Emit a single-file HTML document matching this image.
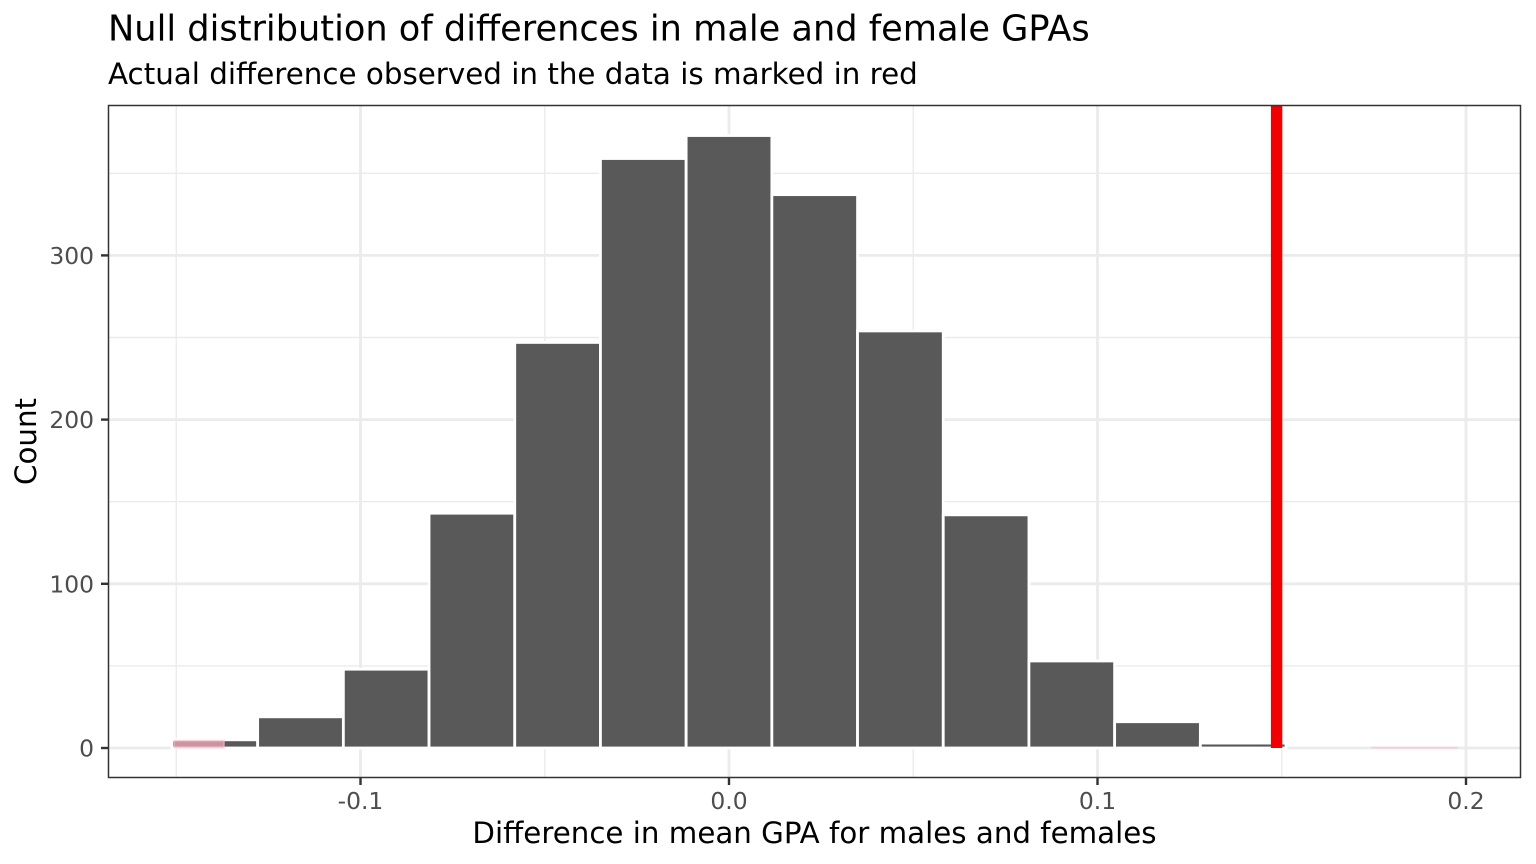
<!DOCTYPE html>
<html lang="en">
<head>
<meta charset="utf-8">
<title>Null distribution of differences in male and female GPAs</title>
<style>
html,body{margin:0;padding:0;background:#fff;}
svg{display:block;font-family:"DejaVu Sans","Liberation Sans",sans-serif;}
</style>
</head>
<body>
<svg id="chart" xmlns="http://www.w3.org/2000/svg" width="1536" height="864" viewBox="0 0 1536 864">
  <defs><clipPath id="panel-clip"><rect x="108.5" y="105.5" width="1412" height="672"/></clipPath></defs>
  <text x="108" y="40.5" font-size="35.16" fill="#000">Null distribution of differences in male and female GPAs</text>
  <text x="108" y="84" font-size="29.35" fill="#000">Actual difference observed in the data is marked in red</text>
  <text x="814.5" y="843" font-size="29.3" text-anchor="middle" fill="#000">Difference in mean GPA for males and females</text>
  <text transform="translate(36 441.5) rotate(-90)" font-size="29.3" text-anchor="middle" fill="#000">Count</text>
  <g id="grid"></g>
  <g id="marks" clip-path="url(#panel-clip)"></g>
  <rect x="108.5" y="105.5" width="1412" height="672" fill="none" stroke="#333" stroke-width="1.5"/>
  <g id="axes"></g>
</svg>
<script>
const binCenters = [-0.13953, -0.11628, -0.09302, -0.06977, -0.04651, -0.02326, 0, 0.02326, 0.04651, 0.06977, 0.09302, 0.11628, 0.13953, 0.16279, 0.18605];
const binCounts = [5, 19, 48, 143, 247, 359, 373, 337, 254, 142, 53, 16, 3, 0, 0];
const binWidth = 0.02326;
const shadeStarts = [-0.1505, 0.17442];
const shadeEnds = [-0.1370, 0.19767];
const shadeCounts = [4.6, 0.4];
const observedDifference = [0.1486];
const xMajorTicks = [-0.1, 0, 0.1, 0.2];
const xTickLabels = ['-0.1', '0.0', '0.1', '0.2'];
const xMinorTicks = [-0.15, -0.05, 0.05, 0.15];
const yMajorTicks = [0, 100, 200, 300];
const yTickLabels = ['0', '100', '200', '300'];
const yMinorTicks = [50, 150, 250, 350];

const NS = 'http://www.w3.org/2000/svg';
const panelLeft = 108.5, panelRight = 1520.5, panelTop = 105.5, panelBottom = 777.5;
function xScale(v) { return 729 + v * 3685; }
function yScale(v) { return 748 - v * 1.642; }
function make(tag, attrs, parent) {
  const el = document.createElementNS(NS, tag);
  Object.keys(attrs).forEach(function (k) { el.setAttribute(k, attrs[k]); });
  parent.appendChild(el);
  return el;
}
const grid = document.getElementById('grid');
const marks = document.getElementById('marks');
const axes = document.getElementById('axes');

yMinorTicks.forEach(function (v) {
  const l = make('line', { x1: panelLeft, x2: panelRight, y1: yScale(v), y2: yScale(v), stroke: '#ebebeb', 'stroke-width': 1.4 }, grid);
  
  
});
xMinorTicks.forEach(function (v) {
  const l = make('line', { x1: xScale(v), x2: xScale(v), y1: panelTop, y2: panelBottom, stroke: '#ebebeb', 'stroke-width': 1.4 }, grid);
  
  
});
yMajorTicks.forEach(function (v) {
  const l = make('line', { x1: panelLeft, x2: panelRight, y1: yScale(v), y2: yScale(v), stroke: '#ebebeb', 'stroke-width': 2.8 }, grid);
  
  
});
xMajorTicks.forEach(function (v) {
  const l = make('line', { x1: xScale(v), x2: xScale(v), y1: panelTop, y2: panelBottom, stroke: '#ebebeb', 'stroke-width': 2.8 }, grid);
  
  
});

binCenters.forEach(function (c, i) {
  const x0 = xScale(c - binWidth / 2), x1 = xScale(c + binWidth / 2);
  const y1 = yScale(binCounts[i]), y0 = yScale(0);
  const r = make('rect', { x: x0, y: y1, width: x1 - x0, height: y0 - y1, fill: '#595959', stroke: '#fff', 'stroke-width': 2.8 }, marks);
  
  
});

shadeStarts.forEach(function (s, i) {
  const x0 = xScale(s), x1 = xScale(shadeEnds[i]);
  const y1 = yScale(shadeCounts[i]), y0 = yScale(0);
  const r = make('rect', { x: x0, y: y1, width: x1 - x0, height: y0 - y1, fill: '#ffb6c6', 'fill-opacity': 0.68, stroke: '#ffc4d2', 'stroke-opacity': 0.6, 'stroke-width': 1.4 }, marks);
  
  
});

observedDifference.forEach(function (v) {
  const l = make('line', { x1: xScale(v), x2: xScale(v), y1: panelTop - 2, y2: yScale(0), stroke: '#f00000', 'stroke-width': 11.4 }, marks);
  
  
});

xMajorTicks.forEach(function (v, i) {
  const t = make('line', { x1: xScale(v), x2: xScale(v), y1: panelBottom, y2: panelBottom + 7.5, stroke: '#333', 'stroke-width': 2.4 }, axes);
  
  
  const lab = make('text', { x: xScale(v), y: 809, 'text-anchor': 'middle', 'font-size': 23.4, fill: '#4d4d4d' }, axes);
  
  
  lab.textContent = xTickLabels[i];
});
yMajorTicks.forEach(function (v, i) {
  const t = make('line', { x1: panelLeft - 7.5, x2: panelLeft, y1: yScale(v), y2: yScale(v), stroke: '#333', 'stroke-width': 2.4 }, axes);
  
  
  const lab = make('text', { x: 94, y: yScale(v) + 8.5, 'text-anchor': 'end', 'font-size': 23.4, fill: '#4d4d4d' }, axes);
  
  
  lab.textContent = yTickLabels[i];
});
</script>
</body>
</html>
